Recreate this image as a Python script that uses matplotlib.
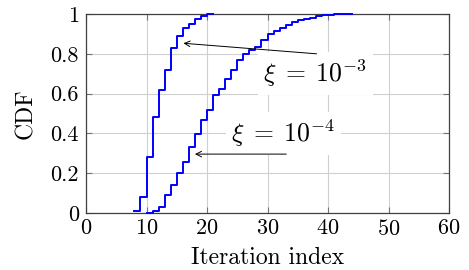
import numpy as np
import matplotlib
matplotlib.use('Agg')
import matplotlib.pyplot as plt

plt.rcParams['font.family'] = 'serif'
plt.rcParams['font.serif'] = ['cmr10', 'DejaVu Serif']
plt.rcParams['mathtext.fontset'] = 'cm'
plt.rcParams['axes.formatter.use_mathtext'] = True

# CDF of the iteration index, two values of xi
iters_a = list(range(8, 22))
cdf_a = [0.01, 0.08, 0.28, 0.48, 0.62, 0.72, 0.83, 0.89, 0.93, 0.95,
         0.975, 0.99, 1.0, 1.0]

iters_b = list(range(10, 45))
cdf_b = [0.0, 0.01, 0.03, 0.088, 0.143, 0.2, 0.257, 0.33, 0.395, 0.466,
         0.518, 0.593, 0.623, 0.674, 0.72, 0.77, 0.80, 0.82, 0.832, 0.867,
         0.9, 0.916, 0.931, 0.946, 0.958, 0.968, 0.976, 0.981, 0.988, 0.993,
         0.995, 1.0, 1.0, 1.0, 1.0]

xticks = [0, 10, 20, 30, 40, 50, 60]
yticks = [0, 0.2, 0.4, 0.6, 0.8, 1]
ytick_labels = ['0', '0.2', '0.4', '0.6', '0.8', '1']

fig = plt.figure(figsize=(4.69, 2.70), dpi=100)
ax = fig.add_axes([0.1834, 0.2111, 0.774, 0.737])

ax.step(iters_a, cdf_a, where='post', color='#0000ff', lw=1.4, clip_on=False, zorder=3)
ax.step(iters_b, cdf_b, where='post', color='#0000ff', lw=1.4, clip_on=False, zorder=3)

ax.set_xlim(0, 60)
ax.set_ylim(0, 1)
ax.set_xticks(xticks)
ax.set_yticks(yticks)
ax.set_yticklabels(ytick_labels)
ax.grid(True, color='#d0d0d0', lw=0.8)
ax.set_axisbelow(True)
ax.tick_params(direction='in', length=4, color='0.45', top=True, right=True,
               labelsize=16, pad=4)
ax.tick_params(axis='y', pad=5)
for s in ax.spines.values():
    s.set_color('0.25')
    s.set_linewidth(0.9)

ax.set_xlabel('Iteration index', fontsize=17, labelpad=6)
ax.set_ylabel('CDF', fontsize=17, labelpad=10)

# annotations (boxes first, arrows on top so they reach the box edge)
ax.text(37.9, 0.70, r'$\xi\;=\;10^{-3}$', fontsize=18.5, ha='center', va='center',
        bbox=dict(facecolor='white', edgecolor='none', pad=4), zorder=4)
ax.annotate('', xy=(16.1, 0.853), xytext=(38.1, 0.80), zorder=5,
            arrowprops=dict(arrowstyle='->', color='black', lw=0.7, shrinkA=0, shrinkB=0))

ax.text(32.6, 0.40, r'$\xi\;=\;10^{-4}$', fontsize=18.5, ha='center', va='center',
        bbox=dict(facecolor='white', edgecolor='none', pad=4), zorder=4)
ax.annotate('', xy=(18.0, 0.296), xytext=(33.1, 0.296), zorder=5,
            arrowprops=dict(arrowstyle='->', color='black', lw=0.7, shrinkA=0, shrinkB=0))

fig.savefig('out.png', dpi=100)
